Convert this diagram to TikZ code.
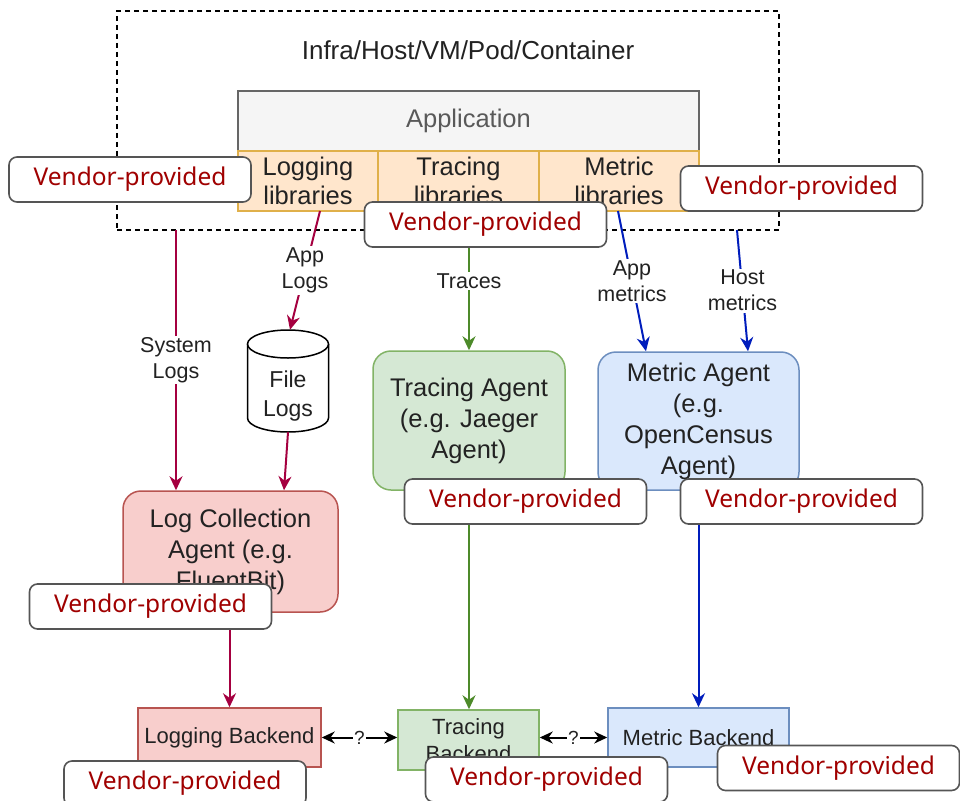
\documentclass[tikz,border=0pt]{standalone}
\usepackage{fontspec}
\setmainfont{Liberation Sans}
\newfontfamily\vendorfont{Noto Sans}
\usetikzlibrary{arrows.meta,calc}
\definecolor{logc}{HTML}{A50040}
\definecolor{tracec}{HTML}{4D8A2A}
\definecolor{metricc}{HTML}{001DBC}
\definecolor{appF}{HTML}{F5F5F5}
\definecolor{appB}{HTML}{666666}
\definecolor{libF}{HTML}{FFE6CC}
\definecolor{libB}{HTML}{E0B04A}
\definecolor{greenF}{HTML}{D5E8D4}
\definecolor{greenB}{HTML}{82B366}
\definecolor{blueF}{HTML}{DAE8FC}
\definecolor{blueB}{HTML}{6C8EBF}
\definecolor{redF}{HTML}{F8CECC}
\definecolor{redB}{HTML}{B85450}
\definecolor{vendR}{HTML}{A00000}
\definecolor{vendB}{HTML}{555555}
\definecolor{ink}{HTML}{222222}
\begin{document}
\begin{tikzpicture}[x=1pt,y=-1pt,
  lib/.style={draw=libB, fill=libF, line width=1.2pt, inner sep=0pt, align=center,
    text=ink, font=\fontsize{25.5}{29}\selectfont},
  agent/.style={rounded corners=18pt, line width=1.5pt, align=center, inner sep=0pt,
    text=ink, font=\fontsize{25.5}{31}\selectfont},
  backend/.style={line width=1.5pt, align=center, inner sep=0pt,
    text=ink, font=\fontsize{22}{27}\selectfont},
  flow/.style={line width=2pt, -{Stealth[length=14pt,width=13pt]}},
  both/.style={line width=2pt, black, {Stealth[length=13pt,width=12pt]}-{Stealth[length=13pt,width=12pt]}},
  lbl/.style={fill=white, inner sep=1.5pt, align=center, text=ink,
    font=\fontsize{21.5}{26}\selectfont},
  qlbl/.style={fill=white, inner sep=1pt, text=ink, font=\fontsize{19}{20}\selectfont},
  vendor/.style={draw=vendB, fill=white, rounded corners=8pt, line width=1.6pt,
    minimum width=242pt, minimum height=45pt, inner sep=0pt, text=vendR,
    font=\vendorfont\fontsize{24.5}{28}\selectfont}
]
\useasboundingbox (0,0) rectangle (960,800);
\fill[white] (0,0) rectangle (960,800);

% host boundary
\node[draw=black, dashed, dash pattern=on 5pt off 4pt, line width=1.4pt,
  minimum width=662pt, minimum height=219pt, inner sep=0pt] (infra) at (448,120.5) {};
\node[text=ink, font=\fontsize{26}{28}\selectfont] (title) at (468,50) {Infra/Host/VM/Pod/Container};

% application and its libraries
\node[draw=appB, fill=appF, line width=1.5pt, minimum width=461pt, minimum height=60pt,
  inner sep=0pt, text=black!65, font=\fontsize{25.5}{29}\selectfont] (app) at (468.5,121) {Application};
\node[lib, minimum width=140pt, minimum height=60pt] (loglib) at (308,181) {Logging\\libraries};
\node[lib, minimum width=161pt, minimum height=60pt] (tracelib) at (458.5,181) {Tracing\\libraries};
\node[lib, minimum width=160pt, minimum height=60pt] (metriclib) at (619,181) {Metric\\libraries};

% agents
\node[agent, draw=greenB, fill=greenF, minimum width=192pt, minimum height=139pt] (traceagent) at (469,420.5) {Tracing Agent\\(e.g. Jaeger\\Agent)};
\node[agent, draw=blueB, fill=blueF, minimum width=201pt, minimum height=138pt] (metricagent) at (698.5,421) {Metric Agent\\(e.g.\\OpenCensus\\Agent)};
\node[agent, draw=redB, fill=redF, minimum width=215pt, minimum height=121pt] (logagent) at (230.5,551.5) {Log Collection\\Agent (e.g.\\FluentBit)};

% file logs store
\fill[white] (247.5,344) -- (247.5,418) arc[start angle=180, end angle=360, x radius=40.5pt, y radius=14pt] -- (328.5,344) -- cycle;
\draw[line width=1.5pt] (247.5,344) -- (247.5,418) arc[start angle=180, end angle=360, x radius=40.5pt, y radius=14pt] -- (328.5,344);
\draw[line width=1.5pt, fill=white] (288,344) ellipse[x radius=40.5pt, y radius=14pt];
\node[minimum width=81pt, minimum height=102pt, inner sep=0pt] (filelogs) at (288,381) {};
\node[align=center, text=ink, font=\fontsize{23}{29}\selectfont] (filetext) at (288,396) {File\\Logs};

% backends
\node[backend, draw=redB, fill=redF, minimum width=183pt, minimum height=59pt] (logbe) at (229.5,737.5) {Logging Backend};
\node[backend, draw=greenB, fill=greenF, minimum width=141pt, minimum height=60pt] (tracebe) at (468.5,740) {Tracing\\Backend};
\node[backend, draw=blueB, fill=blueF, minimum width=181pt, minimum height=59pt] (metricbe) at (698.5,737.5) {Metric Backend};

% connector end points on the host boundary and libraries
\coordinate (sysTop) at (176,230);
\coordinate (appLogTop) at (320,211);
\coordinate (appMetTop) at (618,211);
\coordinate (hostTop) at (737,230);

% log flows
\draw[flow, logc] (sysTop) -- node[lbl] {System\\Logs} (sysTop |- logagent.north);
\draw[flow, logc] (appLogTop) -- node[lbl] {App\\Logs} ($(filelogs.north)+(2,0)$);
\draw[flow, logc] (filelogs.south) -- ($(logagent.north)+(53.5,0)$);
\draw[flow, logc] (logbe.north |- logagent.south) -- (logbe.north);

% trace flows
\draw[flow, tracec] (traceagent.north |- tracelib.south) -- node[lbl] {Traces} (traceagent.north);
\draw[flow, tracec] (traceagent.south) -- (traceagent.south |- tracebe.north);

% metric flows
\draw[flow, metricc] (appMetTop) -- node[lbl] {App\\metrics} ($(metricagent.north)+(-52.5,0)$);
\draw[flow, metricc] (hostTop) -- node[lbl] {Host\\metrics} ($(metricagent.north)+(49.5,0)$);
\draw[flow, metricc] (metricagent.south) -- (metricbe.north);

% links between backends
\draw[both] (logbe.east) -- node[qlbl] {?} (logbe.east -| tracebe.west);
\draw[both] (tracebe.east |- metricbe.west) -- node[qlbl] {?} (metricbe.west);

% vendor call-outs
\node[vendor] (v1) at (130,179.5) {Vendor-provided};
\node[vendor] (v2) at (485.5,224.5) {Vendor-provided};
\node[vendor] (v3) at (801.5,188.5) {Vendor-provided};
\node[vendor] (v4) at (525.5,501.5) {Vendor-provided};
\node[vendor] (v5) at (801.5,501.5) {Vendor-provided};
\node[vendor] (v6) at (150.5,606.5) {Vendor-provided};
\node[vendor] (v7) at (185,783.5) {Vendor-provided};
\node[vendor] (v8) at (546.5,779.5) {Vendor-provided};
\node[vendor] (v9) at (838.5,768) {Vendor-provided};
\end{tikzpicture}
\end{document}
